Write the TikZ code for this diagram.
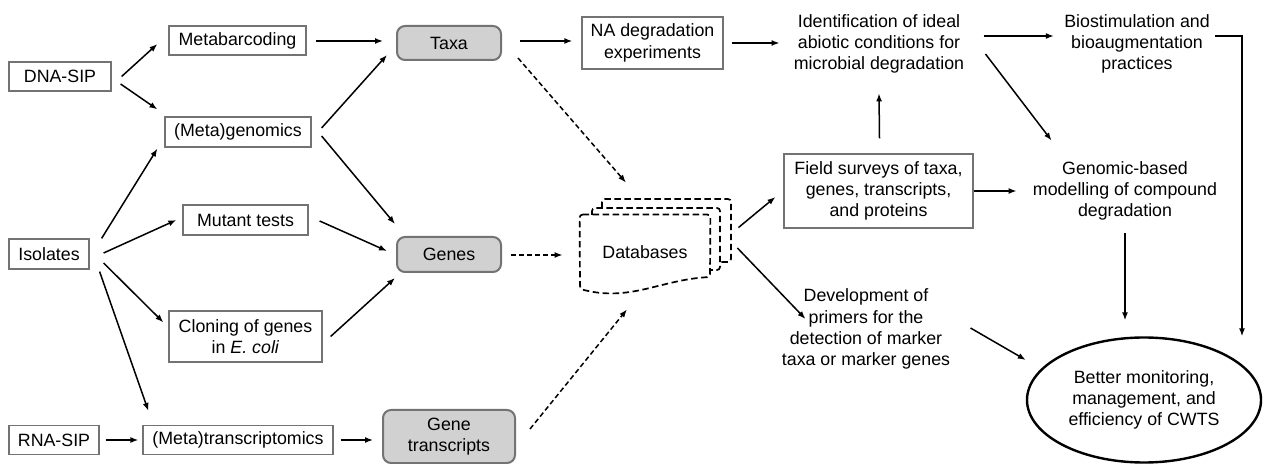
\documentclass[tikz,border=0pt]{standalone}
\usepackage{fontspec}
\setmainfont{Liberation Sans}
\usetikzlibrary{shapes.geometric, arrows.meta}

\begin{document}
\begin{tikzpicture}[
  x=0.5pt, y=-0.5pt,
  every node/.style={font=\fontsize{8.9}{10.6}\selectfont},
  box/.style={rectangle, draw=black!55, line width=0.6pt, align=center, inner sep=0pt},
  kind/.style={rectangle, rounded corners=4pt, draw=black!55, fill=black!18, line width=1pt, align=center, inner sep=0pt},
  txt/.style={align=center, inner sep=0pt},
  line/.style={-{Latex[length=4pt,width=3pt]}, line width=0.75pt},
  dline/.style={line, dash pattern=on 2.5pt off 1.5pt},
  sheet/.style={dash pattern=on 3.2pt off 1.8pt, line width=0.85pt, rounded corners=1.5pt}
]
\useasboundingbox (0,0) rectangle (1263,464);

\node[box, minimum width=51pt, minimum height=14.5pt] (dnasip) at (60,76.5) {DNA-SIP};
\node[box, minimum width=68.5pt, minimum height=14.5pt] (metabar) at (237.5,40.5) {Metabarcoding};
\node[box, minimum width=73pt, minimum height=15pt] (metagen) at (238,132) {(Meta)genomics};
\node[box, minimum width=62.5pt, minimum height=15pt] (mutant) at (245.5,220) {Mutant tests};
\node[box, minimum width=40pt, minimum height=15pt] (isolates) at (49,254) {Isolates};
\node[box, minimum width=76.5pt, minimum height=25.5pt] (cloning) at (245.5,336.5) {Cloning of genes\\in \textit{E. coli}};
\node[box, minimum width=45pt, minimum height=14.5pt] (rnasip) at (54,440) {RNA-SIP};
\node[box, minimum width=95pt, minimum height=14.5pt] (metatra) at (238,440) {(Meta)transcriptomics};

\node[kind, minimum width=52pt, minimum height=17pt] (taxa) at (449,43) {Taxa};
\node[kind, minimum width=52pt, minimum height=17.5pt] (genes) at (449,254.5) {Genes};
\node[kind, minimum width=66pt, minimum height=26.5pt] (transcr) at (449,436.5) {Gene\\transcripts};

\node[box, minimum width=70.5pt, minimum height=26pt] (nadeg) at (652.5,43) {NA degradation\\experiments};
\node[minimum width=65pt, minimum height=37.5pt, inner sep=0pt] (db) at (645,252.5) {Databases};

\node[txt, minimum height=31pt] (ideal) at (879,44) {Identification of ideal\\abiotic conditions for\\microbial degradation};
\node[txt, minimum height=31pt] (biostim) at (1137,44) {Biostimulation and\\bioaugmentation\\practices};
\node[box, minimum width=94.5pt, minimum height=37pt] (field) at (878.5,191) {Field surveys of taxa,\\genes, transcripts,\\and proteins};
\node[txt, minimum height=31pt] (genomic) at (1125,191) {Genomic-based\\modelling of compound\\degradation};
\node[txt] (primers) at (866,329) {Development of\\primers for the\\detection of marker\\taxa or marker genes};
\node[ellipse, draw, line width=1.2pt, minimum width=117pt, minimum height=62.5pt, inner sep=0pt, align=center] (cwts) at (1144,400) {Better monitoring,\\management, and\\efficiency of CWTS};

% stacked database sheets
\draw[sheet] (602,208) -- (602,199) -- (731,199) -- (731,262) -- (720,262);
\draw[sheet] (592,215) -- (592,208) -- (720,208) -- (720,270) -- (710,270);
\draw[sheet] (db.north west) -- (db.north east) -- (710,277) .. controls (660,280) and (630,302) .. (580,289) -- cycle;

\draw[line] ([shift={(10,0)}]dnasip.east) -- ([shift={(-11,3.5)}]metabar.west);
\draw[line] ([shift={(9,7.5)}]dnasip.east) -- ([shift={(-7,-7)}]metagen.north west);
\draw[line] ([shift={(12,0)}]isolates.north east) -- ([shift={(-7,1)}]metagen.south west);
\draw[line] ([shift={(14,-1)}]isolates.east) -- ([shift={(-6,0)}]mutant.west);
\draw[line] ([shift={(14,9)}]isolates.east) -- ([shift={(-5,12)}]cloning.north west);
\draw[line] ([shift={(10,2)}]isolates.south east) -- ([shift={(6,-14)}]metatra.north west);
\draw[line] ([shift={(6,0)}]rnasip.east) -- ([shift={(-4,0)}]metatra.west);
\draw[line] ([shift={(7,0)}]metatra.east) -- ([shift={(-9,3.5)}]transcr.west);

\draw[line] ([shift={(9,0.5)}]metabar.east) -- ([shift={(-13,-2)}]taxa.west);
\draw[line] ([shift={(10,-4)}]metagen.east) -- ([shift={(-9,-6)}]taxa.south west);
\draw[line] ([shift={(10,4)}]metagen.east) -- ([shift={(-1,-12)}]genes.north west);
\draw[line] ([shift={(11,1)}]mutant.east) -- ([shift={(-9,-3.5)}]genes.west);
\draw[line] ([shift={(8,0)}]cloning.east) -- ([shift={(-1,5)}]genes.south west);

\draw[line] ([shift={(18,-2)}]taxa.east) -- ([shift={(-9,-2)}]nadeg.west);
\draw[dline] ([shift={(16,-3)}]taxa.south east) -- ([shift={(-19,-32)}]db.north);
\draw[dline] ([shift={(9,0.5)}]genes.east) -- ([shift={(-17,2.5)}]db.west);
\draw[dline] ([shift={(14,20)}]transcr.north east) -- ([shift={(-18,19)}]db.south);

\draw[line] ([shift={(8,0)}]nadeg.east) -- ([shift={(-14,-1)}]ideal.west);
\draw[line] ([shift={(28,13)}]db.north east) -- ([shift={(-8,6)}]field.west);
\draw[line] ([shift={(27,-4.5)}]db.east) -- ([shift={(24,-10)}]primers.west);
\draw[line] ([shift={(1,-15)}]field.north) -- ([shift={(0,18)}]ideal.south);
\draw[line] ([shift={(19,-8)}]ideal.east) -- ([shift={(-10,-8)}]biostim.west);
\draw[line] ([shift={(21,10)}]ideal.east) -- ([shift={(19,-19)}]genomic.north west);
\draw[line] (field.east) -- ([shift={(-16,0)}]genomic.west);
\draw[line] ([shift={(0,11)}]genomic.south) -- ([shift={(-19,-16)}]cwts.north);
\draw[line] ([shift={(5,-8)}]biostim.east) -| ([shift={(98,0)}]cwts.north);
\draw[line] ([shift={(20,-1)}]primers.east) -- ([shift={(0,-40)}]cwts.west);

\end{tikzpicture}
\end{document}
